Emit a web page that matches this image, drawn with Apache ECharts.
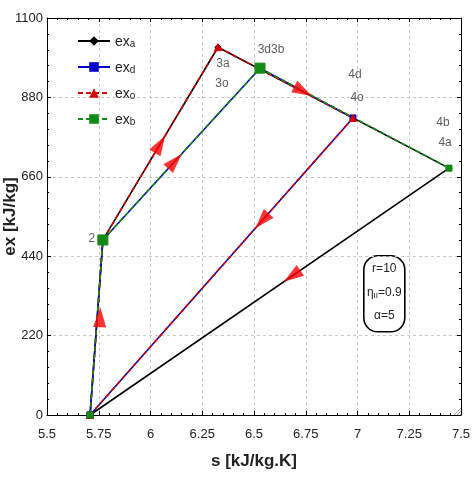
<!DOCTYPE html>
<html>
<head>
<meta charset="UTF-8">
<title>ex - s</title>
<script src="https://cdn.jsdelivr.net/npm/echarts@6/dist/echarts.min.js"></script>
<style>
  html, body { margin: 0; padding: 0; background: #fff; }
  #container { width: 472px; height: 477px; }
</style>
</head>
<body>
<div id="container"></div>
<script>
// cycle points: s [kJ/kg.K], ex [kJ/kg]
var sA  = [5.708, 5.770, 6.326, 7.442, 5.708];   // 1 - 2 - 3a - 4a - 1
var exA = [0,     485,   1019,  684,   0];
var sD  = [5.708, 5.770, 6.529, 6.978, 5.708];   // 1 - 2 - 3d - 4d - 1
var exD = [0,     485,   961,   823,   0];
var sO  = [5.708, 5.770, 6.326, 6.978, 5.708];   // 1 - 2 - 3o - 4o - 1
var exO = [0,     485,   1019,  823,   0];
var sB  = [5.708, 5.770, 6.529, 7.442];          // 1 - 2 - 3b - 4b
var exB = [0,     485,   961,   684];

// red direction arrows: where they sit and the point they head to
var arrowS    = [6.046, 6.118, 6.737, 6.539, 6.684, 5.756];
var arrowEx   = [750,   703,   897,   538,   385,   271];
var arrowToS  = [6.326, 6.529, 6.978, 5.708, 5.708, 5.770];
var arrowToEx = [1019,  961,   823,   0,     0,     485];

// state labels
var ptText  = ['2',   '3a',  '3o',  '3d3b', '4d',  '4o',  '4b',  '4a'];
var ptS     = [5.717, 6.350, 6.345, 6.582,  6.988, 6.998, 7.413, 7.423];
var ptEx    = [488,   973,   917,   1011,   942,   878,   809,   754];

var xTicks = [5.5, 5.75, 6, 6.25, 6.5, 6.75, 7, 7.25, 7.5];
var yTicks = [0, 220, 440, 660, 880, 1100];

function pairs(xs, ys) {
    var out = [];
    for (var i = 0; i < xs.length; i++) out.push([xs[i], ys[i]]);
    return out;
}

var mychart = echarts.init(document.getElementById('container'));
var font = 'Liberation Sans, Arial, sans-serif';
var grid = { left: 47, right: 11, top: 18, bottom: 62, outerBoundsMode: 'none', containLabel: false };

var xBase = {
    type: 'value', min: xTicks[0], max: xTicks[xTicks.length - 1], interval: 0.25,
    axisLine: { show: true, onZero: false, lineStyle: { color: '#000', width: 1 } },
    axisTick: { show: true, inside: true, length: 4, lineStyle: { color: '#000' } },
    minorTick: { show: true, splitNumber: 5, length: 2, lineStyle: { color: '#000' } },
    splitLine: { show: false }
};
var yBase = {
    type: 'value', min: yTicks[0], max: yTicks[yTicks.length - 1], interval: 220,
    axisLine: { show: true, onZero: false, lineStyle: { color: '#000', width: 1 } },
    axisTick: { show: true, inside: true, length: 4, lineStyle: { color: '#000' } },
    minorTick: { show: true, splitNumber: 5, length: 2, lineStyle: { color: '#000' } },
    splitLine: { show: false }
};

function lineSeries(name, xs, ys, color, dash, symbol, size) {
    return {
        name: name, type: 'line', xAxisIndex: 0, yAxisIndex: 0,
        data: pairs(xs, ys),
        symbol: symbol, symbolSize: size,
        showAllSymbol: true,
        lineStyle: { color: color, width: 1.6, type: dash },
        itemStyle: { color: color, borderColor: color },
        animation: false
    };
}

var option = {
    animation: false,
    grid: grid,
    legend: {
        orient: 'vertical', left: 72, top: 28,
        itemWidth: 32, itemHeight: 12, itemGap: 10,
        data: ['ex_a', 'ex_d', 'ex_o', 'ex_b'],
        formatter: function (n) {
            return '{m|ex}{s|' + n.split('_')[1] + '}';
        },
        textStyle: {
            color: '#222',
            rich: {
                m: { fontSize: 14, fontFamily: font, lineHeight: 16, verticalAlign: 'bottom' },
                s: { fontSize: 10, fontFamily: font, lineHeight: 12, verticalAlign: 'bottom', padding: [6, 0, 0, 0] }
            }
        }
    },
    xAxis: [
        echarts.util.merge({
            position: 'bottom',
            name: 's [kJ/kg.K]', nameLocation: 'middle', nameGap: 38, nameMoveOverlap: false,
            nameTextStyle: { fontFamily: font, fontSize: 17, fontWeight: 'bold', color: '#222' },
            axisLabel: { fontFamily: font, fontSize: 13, color: '#222', margin: 13 },
            splitLine: { show: true, lineStyle: { color: '#c8c8c8', type: [3, 3] } }
        }, xBase, false),
        echarts.util.merge({ position: 'top', axisLabel: { show: false } }, xBase, false)
    ],
    yAxis: [
        echarts.util.merge({
            position: 'left',
            name: 'ex [kJ/kg]', nameLocation: 'middle', nameGap: 28, nameMoveOverlap: false,
            nameTextStyle: { fontFamily: font, fontSize: 17, fontWeight: 'bold', color: '#222' },
            axisLabel: { fontFamily: font, fontSize: 13, color: '#222', margin: 4,
                         formatter: function (v) { return String(v); } },
            splitLine: { show: true, lineStyle: { color: '#c8c8c8', type: [3, 3] } }
        }, yBase, false),
        echarts.util.merge({ position: 'right', axisLabel: { show: false } }, yBase, false)
    ],
    series: [
        lineSeries('ex_a', sA, exA, '#000000', 'solid', 'diamond', 6),
        lineSeries('ex_d', sD, exD, '#0000cc', 'solid', 'rect', 6),
        lineSeries('ex_o', sO, exO, '#d40000', [5, 3], 'triangle', 7),
        lineSeries('ex_b', sB, exB, '#138a13', [5, 3], 'rect', function (v, p) {
            return (p.dataIndex === 1 || p.dataIndex === 2) ? 10 : 6;
        }),
        {
            name: 'arrows', type: 'scatter', z: 5,
            data: pairs(arrowS, arrowEx),
            symbol: 'triangle', symbolSize: [13, 20],
            itemStyle: { color: '#ff0000' },
            silent: true
        },
        {
            name: 'labels', type: 'scatter', z: 6,
            data: ptS.map(function (s, i) { return { value: [s, ptEx[i]], name: ptText[i] }; }),
            symbolSize: 0,
            label: {
                show: true, position: 'inside', formatter: '{b}',
                fontFamily: font, fontSize: 12, color: '#333'
            },
            silent: true
        }
    ],
    graphic: [
        {
            type: 'group', left: 363, top: 255,
            children: [
                { type: 'rect', shape: { x: 0, y: 0, width: 41, height: 76, r: 14 },
                  style: { fill: '#fff', stroke: '#000', lineWidth: 1.6 } },
                { type: 'text', x: 20.5, y: 13, style: { text: 'r=10', fontFamily: font, fontSize: 12, fill: '#222', align: 'center', verticalAlign: 'middle' } },
                { type: 'text', x: 20.5, y: 37, style: {
                    text: '{a|η}{b|II}{a|=0.9}', align: 'center', verticalAlign: 'middle',
                    rich: { a: { fontFamily: font, fontSize: 12, fill: '#222' },
                            b: { fontFamily: font, fontSize: 8, fill: '#222', padding: [6, 0, 0, 0] } } } },
                { type: 'text', x: 20.5, y: 60, style: { text: 'α=5', fontFamily: font, fontSize: 12, fill: '#222', align: 'center', verticalAlign: 'middle' } }
            ]
        },
        {
            type: 'group', left: 451, top: 404,
            children: [
                { type: 'line', shape: { x1: 0, y1: 9, x2: 9, y2: 0 }, style: { stroke: '#999', lineWidth: 1 } },
                { type: 'line', shape: { x1: 3, y1: 9, x2: 9, y2: 3 }, style: { stroke: '#999', lineWidth: 1 } },
                { type: 'line', shape: { x1: 6, y1: 9, x2: 9, y2: 6 }, style: { stroke: '#999', lineWidth: 1 } }
            ]
        }
    ]
};

mychart.setOption(option);

// point each arrow along its segment, using the chart's own pixel scale
var rot = [];
for (var i = 0; i < arrowS.length; i++) {
    var p0 = mychart.convertToPixel({ gridIndex: 0 }, [arrowS[i], arrowEx[i]]);
    var p1 = mychart.convertToPixel({ gridIndex: 0 }, [arrowToS[i], arrowToEx[i]]);
    var cw = Math.atan2(p1[0] - p0[0], -(p1[1] - p0[1])) * 180 / Math.PI;
    rot.push(-cw);
}
mychart.setOption({
    series: [{ name: 'arrows', symbolRotate: function (v, p) { return rot[p.dataIndex]; } }]
});
</script>
</body>
</html>
